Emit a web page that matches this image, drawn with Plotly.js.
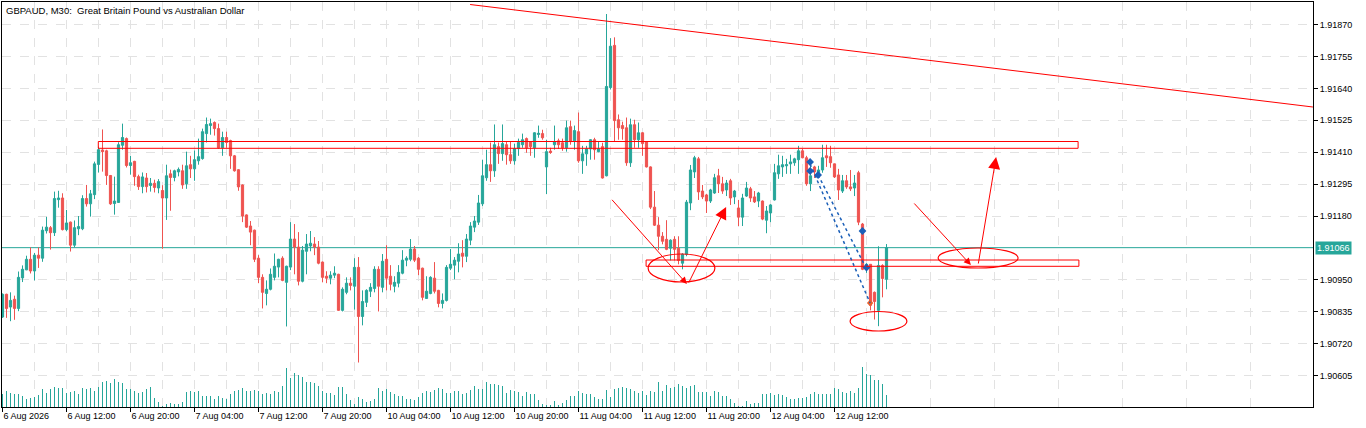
<!DOCTYPE html>
<html><head><meta charset="utf-8">
<script src="https://cdn.plot.ly/plotly-3.0.1.min.js"></script>
<style>html,body{margin:0;padding:0;background:#fff;}#chart{width:1366px;height:428px;}</style>
</head><body><div id="chart"></div>
<script>
// GBPAUD M30 bars (index 0 = 6 Aug 2026 04:00)
const open = [1.90816,1.90898,1.90852,1.90880,1.90847,1.90957,1.90986,1.91024,1.90982,1.91039,
1.91028,1.91127,1.91138,1.91120,1.91239,1.91245,1.91131,1.91158,1.91075,1.91134,
1.91134,1.91243,1.91224,1.91257,1.91366,1.91418,1.91415,1.91326,1.91225,1.91229,
1.91435,1.91459,1.91362,1.91377,1.91322,1.91286,1.91317,1.91290,1.91298,1.91281,
1.91272,1.91245,1.91332,1.91319,1.91339,1.91343,1.91296,1.91365,1.91350,1.91379,
1.91387,1.91477,1.91506,1.91517,1.91495,1.91426,1.91463,1.91452,1.91397,1.91347,
1.91292,1.91184,1.91144,1.91129,1.91028,1.90959,1.90901,1.90916,1.90959,1.90996,
1.91028,1.90941,1.90996,1.91097,1.91068,1.90945,1.91053,1.91072,1.91079,1.91068,
1.91014,1.90963,1.90956,1.90967,1.90970,1.90840,1.90905,1.90938,1.90927,1.90995,
1.90818,1.90869,1.90909,1.90919,1.90988,1.90923,1.91024,1.90963,1.90927,1.90938,
1.90974,1.91021,1.91024,1.91061,1.91028,1.90992,1.90883,1.90901,1.90956,1.90912,
1.90865,1.90876,1.90992,1.91003,1.91017,1.91046,1.91035,1.91093,1.91140,1.91158,
1.91224,1.91318,1.91365,1.91343,1.91430,1.91405,1.91437,1.91401,1.91379,1.91423,
1.91437,1.91459,1.91448,1.91426,1.91474,1.91477,1.91357,1.91414,1.91437,1.91451,
1.91444,1.91426,1.91502,1.91451,1.91484,1.91379,1.91404,1.91422,1.91455,1.91412,
1.91430,1.91325,1.91643,1.91795,1.91527,1.91506,1.91498,1.91372,1.91509,1.91455,
1.91480,1.91448,1.91357,1.91212,1.91147,1.91107,1.91096,1.91064,1.91096,1.91064,
1.91010,1.91042,1.91227,1.91339,1.91386,1.91270,1.91256,1.91234,1.91263,1.91325,
1.91296,1.91274,1.91307,1.91249,1.91209,1.91176,1.91252,1.91278,1.91249,1.91234,
1.91234,1.91165,1.91191,1.91238,1.91332,1.91357,1.91361,1.91368,1.91372,1.91383,
1.91415,1.91390,1.91296,1.91357,1.91336,1.91346,1.91397,1.91394,1.91368,1.91328,
1.91270,1.91307,1.91285,1.91281,1.91336,1.91151,1.90988,1.91006,1.90905,1.90840,
1.91002,1.90952];
const high = [1.90901,1.90900,1.90905,1.90893,1.90980,1.91002,1.91037,1.91067,1.91047,1.91067,
1.91142,1.91177,1.91144,1.91268,1.91271,1.91262,1.91202,1.91160,1.91164,1.91180,
1.91255,1.91292,1.91274,1.91376,1.91430,1.91492,1.91419,1.91328,1.91322,1.91446,
1.91513,1.91463,1.91397,1.91379,1.91329,1.91337,1.91335,1.91317,1.91311,1.91313,
1.91291,1.91365,1.91347,1.91347,1.91355,1.91365,1.91412,1.91397,1.91416,1.91459,
1.91495,1.91535,1.91531,1.91521,1.91513,1.91484,1.91484,1.91455,1.91400,1.91349,
1.91294,1.91186,1.91162,1.91131,1.91039,1.90970,1.90948,1.90991,1.91045,1.91026,
1.91035,1.91001,1.91158,1.91151,1.91122,1.91072,1.91115,1.91126,1.91104,1.91090,
1.91016,1.90981,1.90981,1.90999,1.90972,1.90923,1.90959,1.90959,1.91028,1.91032,
1.90912,1.90916,1.90938,1.90999,1.90999,1.91043,1.91075,1.91003,1.90963,1.91003,
1.91057,1.91035,1.91097,1.91072,1.91032,1.90994,1.90963,1.90963,1.91014,1.90914,
1.90901,1.91003,1.91061,1.91032,1.91082,1.91093,1.91115,1.91158,1.91180,1.91256,
1.91383,1.91419,1.91445,1.91510,1.91445,1.91510,1.91448,1.91448,1.91441,1.91459,
1.91477,1.91463,1.91450,1.91482,1.91506,1.91491,1.91455,1.91426,1.91506,1.91459,
1.91459,1.91524,1.91524,1.91506,1.91553,1.91433,1.91433,1.91457,1.91462,1.91448,
1.91444,1.91908,1.91821,1.91824,1.91546,1.91520,1.91535,1.91531,1.91527,1.91517,
1.91482,1.91450,1.91359,1.91270,1.91176,1.91122,1.91165,1.91096,1.91107,1.91107,
1.91046,1.91238,1.91364,1.91397,1.91393,1.91292,1.91260,1.91278,1.91332,1.91350,
1.91321,1.91310,1.91314,1.91274,1.91238,1.91260,1.91303,1.91285,1.91270,1.91267,
1.91236,1.91216,1.91223,1.91368,1.91401,1.91397,1.91386,1.91401,1.91390,1.91433,
1.91422,1.91397,1.91365,1.91361,1.91361,1.91437,1.91437,1.91433,1.91369,1.91350,
1.91328,1.91328,1.91346,1.91328,1.91343,1.91155,1.91010,1.91006,1.90908,1.91071,
1.91006,1.91079];
const low = [1.90813,1.90813,1.90801,1.90806,1.90837,1.90942,1.90985,1.90973,1.90948,1.90993,
1.91015,1.91117,1.91059,1.91108,1.91210,1.91128,1.91125,1.91052,1.91067,1.91111,
1.91129,1.91214,1.91178,1.91241,1.91337,1.91340,1.91292,1.91220,1.91185,1.91228,
1.91419,1.91355,1.91329,1.91289,1.91274,1.91262,1.91265,1.91268,1.91265,1.91262,
1.91062,1.91166,1.91199,1.91305,1.91323,1.91278,1.91278,1.91317,1.91307,1.91365,
1.91383,1.91445,1.91473,1.91470,1.91423,1.91397,1.91426,1.91350,1.91340,1.91271,
1.91158,1.91137,1.91075,1.91014,1.90938,1.90847,1.90858,1.90912,1.90948,1.90959,
1.90945,1.90782,1.90985,1.90970,1.90930,1.90941,1.90970,1.91053,1.91039,1.91006,
1.90941,1.90938,1.90934,1.90956,1.90838,1.90836,1.90898,1.90912,1.90843,1.90652,
1.90786,1.90852,1.90888,1.90905,1.90836,1.90905,1.90912,1.90912,1.90905,1.90923,
1.90970,1.90999,1.91017,1.91014,1.90967,1.90876,1.90881,1.90898,1.90901,1.90851,
1.90847,1.90872,1.90985,1.90952,1.90977,1.90995,1.91014,1.91075,1.91122,1.91148,
1.91216,1.91307,1.91303,1.91321,1.91368,1.91379,1.91365,1.91368,1.91365,1.91397,
1.91426,1.91408,1.91397,1.91390,1.91462,1.91455,1.91259,1.91404,1.91419,1.91422,
1.91415,1.91412,1.91437,1.91419,1.91372,1.91332,1.91361,1.91383,1.91383,1.91410,
1.91315,1.91323,1.91636,1.91448,1.91455,1.91455,1.91361,1.91357,1.91426,1.91426,
1.91397,1.91355,1.91205,1.91144,1.91057,1.91078,1.91057,1.91020,1.91020,1.91006,
1.90988,1.91035,1.91201,1.91317,1.91238,1.91241,1.91191,1.91227,1.91260,1.91263,
1.91260,1.91252,1.91220,1.91223,1.91144,1.91144,1.91249,1.91231,1.91227,1.91212,
1.91165,1.91118,1.91158,1.91236,1.91314,1.91321,1.91332,1.91332,1.91361,1.91332,
1.91388,1.91289,1.91270,1.91317,1.91325,1.91336,1.91357,1.91354,1.91317,1.91238,
1.91263,1.91278,1.91270,1.91252,1.91147,1.90985,1.90975,1.90840,1.90807,1.90783,
1.90887,1.90916];
const close = [1.90898,1.90847,1.90876,1.90847,1.90959,1.90988,1.91024,1.90982,1.91039,1.91028,
1.91129,1.91140,1.91120,1.91243,1.91245,1.91131,1.91155,1.91075,1.91138,1.91142,
1.91243,1.91224,1.91260,1.91368,1.91419,1.91412,1.91326,1.91224,1.91234,1.91437,
1.91463,1.91362,1.91372,1.91322,1.91286,1.91321,1.91286,1.91298,1.91283,1.91304,
1.91245,1.91325,1.91319,1.91343,1.91348,1.91292,1.91361,1.91350,1.91383,1.91394,
1.91484,1.91510,1.91513,1.91495,1.91426,1.91463,1.91445,1.91397,1.91343,1.91285,
1.91180,1.91140,1.91122,1.91024,1.90959,1.90905,1.90916,1.90970,1.90999,1.91024,
1.90948,1.90999,1.91097,1.91068,1.90945,1.91057,1.91079,1.91082,1.91068,1.91010,
1.90959,1.90956,1.90967,1.90974,1.90840,1.90916,1.90938,1.90930,1.90995,1.90818,
1.90872,1.90912,1.90923,1.90988,1.90927,1.91017,1.90956,1.90934,1.90941,1.90977,
1.91021,1.91028,1.91061,1.91021,1.90988,1.90887,1.90909,1.90959,1.90909,1.90865,
1.90876,1.90995,1.91006,1.91021,1.91043,1.91035,1.91097,1.91144,1.91162,1.91227,
1.91325,1.91365,1.91343,1.91437,1.91405,1.91441,1.91401,1.91379,1.91423,1.91445,
1.91455,1.91426,1.91430,1.91480,1.91478,1.91462,1.91412,1.91409,1.91448,1.91437,
1.91426,1.91498,1.91448,1.91488,1.91379,1.91404,1.91422,1.91455,1.91419,1.91422,
1.91317,1.91647,1.91792,1.91524,1.91498,1.91495,1.91372,1.91509,1.91455,1.91480,
1.91441,1.91357,1.91212,1.91147,1.91107,1.91089,1.91060,1.91093,1.91060,1.91020,
1.91042,1.91230,1.91346,1.91390,1.91267,1.91249,1.91234,1.91274,1.91318,1.91296,
1.91270,1.91299,1.91245,1.91270,1.91176,1.91245,1.91281,1.91245,1.91231,1.91263,
1.91169,1.91198,1.91220,1.91336,1.91361,1.91365,1.91365,1.91375,1.91386,1.91415,
1.91390,1.91296,1.91325,1.91339,1.91346,1.91390,1.91390,1.91372,1.91321,1.91274,
1.91307,1.91285,1.91278,1.91299,1.91158,1.90988,1.91006,1.90858,1.90872,1.91002,
1.90955,1.91066];
const volume = [40,47,41,39,39,33,23,27,29,35,53,41,53,59,56,56,41,44,47,39,
56,53,56,47,59,74,79,71,83,74,71,53,53,47,41,44,53,59,26,14,
3,9,12,9,9,14,44,47,44,47,32,32,32,24,32,26,23,38,47,50,
56,47,47,50,47,38,41,38,47,44,62,116,86,101,95,89,74,74,71,62,
47,41,41,35,59,59,38,20,8,29,23,14,17,23,56,47,53,44,38,32,
32,23,23,20,29,41,47,44,50,56,53,41,41,47,47,38,41,50,62,53,
53,74,68,68,65,62,41,50,47,44,32,44,38,38,20,8,6,6,17,5,
11,20,32,32,47,41,38,38,29,23,23,50,29,53,56,59,56,53,47,41,
47,35,47,44,74,47,65,56,59,68,62,56,62,65,44,44,44,32,47,44,
32,32,23,11,2,2,17,8,11,11,38,38,41,35,38,35,29,23,23,26,
26,29,38,44,38,38,38,38,56,53,44,41,47,41,56,119,98,95,80,80,
68,35];
const tickBars = [0,16,32,48,64,80,96,112,128,144,160,176,192,208];
const tickLabels = ["6 Aug 2026","6 Aug 12:00","6 Aug 20:00","7 Aug 04:00","7 Aug 12:00","7 Aug 20:00",
"10 Aug 04:00","10 Aug 12:00","10 Aug 20:00","11 Aug 04:00","11 Aug 12:00","11 Aug 20:00","12 Aug 04:00","12 Aug 12:00"];
const priceTicks = [1.90605,1.90720,1.90835,1.90950,1.91180,1.91295,1.91410,1.91525,1.91640,1.91755,1.91870];
const lastPrice = 1.91066;

// chart objects (bar index, price)
const trendLine = [116.9, 1.919423, 327.6, 1.915729];
const rects = [[23.95, 1.914241, 268.9, 1.914486],[160.9, 1.909988, 269.1, 1.910215]];
const ellipses = [[161.4, 1.909422, 178.1, 1.910431],[211.9, 1.907656, 226.1, 1.908359],[233.9, 1.909927, 253.9, 1.910648]];
const arrows = [[152.05,1.912439,171.1,1.90935,1.4],[171.4,1.90935,180.9,1.912125,2.4],
                [227.6,1.912306,242.1,1.910035,1.4],[243.9,1.910035,248.4,1.913927,2.4]];
const tradeLines = [[201.9,1.913675,216.9,1.908666],[203.9,1.913279,215.9,1.909927]];
const tradeMarksX = [201.9,201.9,203.9,215,216];
const tradeMarksY = [1.913747,1.913423,1.913279,1.91126,1.909945];
const closeMarkX = [216.9], closeMarkY = [1.908666];

const FONT = 'Liberation Sans, Arial, sans-serif';
const UP = '#26a69a', DN = '#ef5350', GRID = '#e2e2e2';
const x = open.map((_, i) => i);

const traces = [
  {type:'bar', x:x, y:volume, yaxis:'y2', width:0.28, marker:{color:UP, line:{width:0}}, hoverinfo:'skip', showlegend:false},
  {type:'candlestick', x:x, open:open, high:high, low:low, close:close,
   increasing:{line:{color:UP, width:1}, fillcolor:UP},
   decreasing:{line:{color:DN, width:1}, fillcolor:DN},
   whiskerwidth:0, hoverinfo:'skip', showlegend:false},
  {type:'scatter', mode:'markers', x:tradeMarksX, y:tradeMarksY, marker:{symbol:'diamond', size:6, color:'#1b5fb8'}, hoverinfo:'skip', showlegend:false},
  {type:'scatter', mode:'markers', x:closeMarkX, y:closeMarkY, marker:{symbol:'diamond', size:5, color:'#e8602c'}, hoverinfo:'skip', showlegend:false}
];

const shapes = [];
shapes.push({type:'line', xref:'paper', x0:0, x1:1, yref:'y', y0:lastPrice, y1:lastPrice, line:{color:UP, width:1}, layer:'between'});
shapes.push({type:'line', xref:'x', yref:'y', x0:trendLine[0], y0:trendLine[1], x1:trendLine[2], y1:trendLine[3], line:{color:'#ff0000', width:1}});
rects.forEach(r => shapes.push({type:'rect', xref:'x', yref:'y', x0:r[0], y0:r[1], x1:r[2], y1:r[3], line:{color:'#ff0000', width:1}, fillcolor:'rgba(0,0,0,0)'}));
ellipses.forEach(e => shapes.push({type:'circle', xref:'x', yref:'y', x0:e[0], y0:e[1], x1:e[2], y1:e[3], line:{color:'#ff0000', width:1.2}, fillcolor:'rgba(0,0,0,0)'}));
tradeLines.forEach(l => shapes.push({type:'line', xref:'x', yref:'y', x0:l[0], y0:l[1], x1:l[2], y1:l[3], line:{color:'#1b5fb8', width:1.5, dash:'dot'}}));

const annotations = [
  {xref:'paper', yref:'paper', x:0, y:1, xanchor:'left', yanchor:'top', xshift:2, yshift:-1, showarrow:false,
   text:'GBPAUD, M30:\u00a0 Great Britain Pound vs Australian Dollar', font:{family:FONT, size:9.5, color:'#000'}},
  {xref:'paper', yref:'y', x:1, y:lastPrice, xanchor:'left', xshift:2, showarrow:false, text:lastPrice.toFixed(5),
   bgcolor:UP, borderpad:1, font:{family:FONT, size:9, color:'#fff'}}
];
arrows.forEach(a => annotations.push({xref:'x', yref:'y', axref:'x', ayref:'y', ax:a[0], ay:a[1], x:a[2], y:a[3], text:'',
  showarrow:true, arrowhead:2, arrowsize:a[4], arrowwidth:1, arrowcolor:'#ff0000', standoff:0, startstandoff:0}));

const layout = {
  width:1366, height:428, paper_bgcolor:'#fff', plot_bgcolor:'#fff',
  margin:{l:2, r:53, t:2, b:21, pad:0, autoexpand:false},
  showlegend:false, boxgap:0.45, boxgroupgap:0, bargap:0,
  font:{family:FONT, size:9, color:'#000'},
  xaxis:{range:[-0.125, 327.625], showline:true, mirror:true, linecolor:'#000', linewidth:1,
    tickmode:'array', tickvals:tickBars, ticktext:tickLabels, ticks:'outside', ticklen:4, tickcolor:'#000',
    ticklabelposition:'outside right', tickfont:{family:FONT, size:9, color:'#000'},
    showgrid:true, gridcolor:GRID, griddash:'dash', gridwidth:1, zeroline:false,
    minor:{tickmode:'linear', tick0:8, dtick:16, showgrid:true, gridcolor:GRID, griddash:'dash', ticks:''},
    rangeslider:{visible:false}, fixedrange:true},
  yaxis:{side:'right', range:[1.9049174, 1.9195135], showline:true, mirror:true, linecolor:'#000', linewidth:1,
    tickmode:'array', tickvals:priceTicks, ticktext:priceTicks.map(v => v.toFixed(5)), ticks:'outside', ticklen:4, tickcolor:'#000',
    tickfont:{family:FONT, size:9, color:'#000'}, showgrid:true, gridcolor:GRID, griddash:'dash', zeroline:false, fixedrange:true},
  yaxis2:{overlaying:'y', range:[0, 1215], visible:false, fixedrange:true},
  shapes:shapes, annotations:annotations
};
Plotly.newPlot('chart', traces, layout, {displayModeBar:false, staticPlot:true});
</script></body></html>
